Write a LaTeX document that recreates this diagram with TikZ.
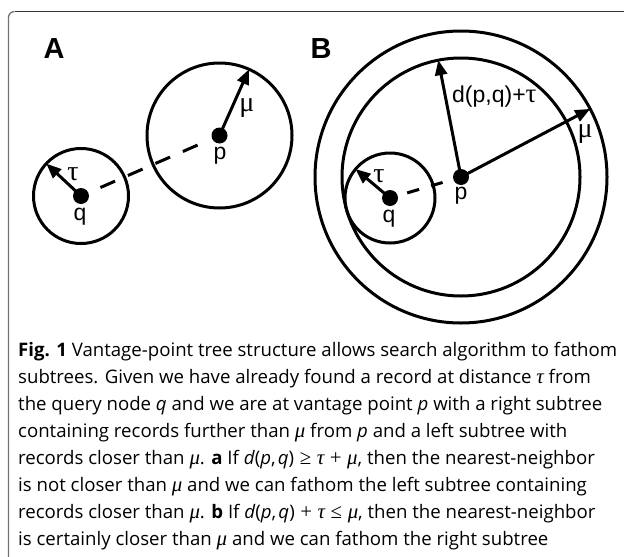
\documentclass[tikz,border=0pt]{standalone}
\usepackage{fontspec}
\setmainfont{Open Sans}
\newfontfamily\helv{Liberation Sans}
\newfontfamily\tser{Liberation Serif}
\newcommand\gfont{\tser\itshape\fontsize{\gsize pt}{27pt}\selectfont}
\newcommand\gtau{{\gfont τ}}
\newcommand\gmu{{\gfont μ}}
\newcommand\gop[1]{\hspace{0.3em}{\tser\fontsize{\gsize pt}{27pt}\selectfont #1}\hspace{0.3em}}
\newcommand\dpq{\textit{d}(\textit{p},\hspace{0.12em}\textit{q})}
\usetikzlibrary{arrows.meta}
\newlength\capw
\begin{document}
\settowidth\capw{\fontsize{10pt}{12pt}\selectfont\textbf{Fig. 1} Vantage-point tree structure allows search algorithm to fathom}%
\pgfmathsetmacro\capsize{5990/\capw}%
\pgfmathsetmacro\gsize{1.12*\capsize}%
\begin{tikzpicture}[x=1pt,y=-1pt,
  ring/.style={draw=black,line width=3pt},
  dot/.style={circle,fill=black,inner sep=0pt,minimum size=16pt},
  radarrow/.style={line width=3pt,-{Triangle[length=15pt,width=12pt]}},
  dashA/.style={line width=3pt,dash pattern=on 16pt off 14pt},
  dashB/.style={line width=3pt,dash pattern=on 12.5pt off 12.5pt},
  lab/.style={font=\helv\fontsize{23pt}{23pt}\selectfont,inner sep=0pt,anchor=base},
  glab/.style={font=\tser\fontsize{28pt}{28pt}\selectfont,inner sep=0pt,anchor=base},
  panel/.style={font=\helv\bfseries\fontsize{29pt}{29pt}\selectfont,inner sep=0pt},
  framel/.style={draw=black!55,line width=1.3pt},
  framet/.style={draw=black!80,line width=1.3pt},
  capline/.style={anchor=base west,inner sep=0pt,font=\fontsize{\capsize pt}{27pt}\selectfont}
]
\useasboundingbox (0,0) rectangle (624,557);
% frame
\draw[framel] (8.5,557) -- (8.5,17.5) arc[start angle=180,end angle=270,radius=6];
\draw[framet] (14.5,11.5) -- (624,11.5);

% panel labels
\node[panel] (labA) at (54,49) {A};
\node[panel] (labB) at (321,49) {B};

% ---------- Panel A ----------
\draw[ring] (81,196) circle[radius=47.5];
\draw[ring] (219.5,135.5) circle[radius=72.5];
\node[dot] (qA) at (81,196) {};
\node[dot] (pA) at (219.5,135.5) {};
\coordinate (tauA) at (46.3,163.6);
\coordinate (muA) at (249,69.3);
\draw[radarrow] (qA.center) -- (tauA);
\draw[radarrow] (pA.center) -- (muA);
\draw[dashA,shorten <=13pt,shorten >=15.5pt] (qA) -- (pA);
\node[glab] (tauAl) at (73,180) {τ};
\node[lab] (qAl) at (80,220) {q};
\node[lab] (pAl) at (220,159) {p};
\node[glab] (muAl) at (247,111) {μ};

% ---------- Panel B ----------
\draw[ring] (461,177) circle[radius=146];
\draw[ring] (461,177) circle[radius=119];
\draw[ring] (390,198) circle[radius=45];
\node[dot] (qB) at (390,198) {};
\node[dot] (pB) at (461,177) {};
\coordinate (tauB) at (355.5,169);
\coordinate (dB) at (438.3,60.2);
\coordinate (muB) at (590.2,108.9);
\draw[radarrow] (qB.center) -- (tauB);
\draw[radarrow] (pB.center) -- (dB);
\draw[radarrow] (pB.center) -- (muB);
\draw[dashB,shorten <=9.7pt,shorten >=11pt] (qB) -- (pB);
\node[glab] (tauBl) at (379,182) {τ};
\node[lab] (qBl) at (389,222) {q};
\node[lab] (pBl) at (461,199) {p};
\node[glab] (muBl) at (585,137) {μ};
\node[lab,anchor=base west] (dBl) at (452,102) {d(p,q)+{\tser\fontsize{27pt}{27pt}\selectfont τ}};

% ---------- Caption ----------
\node[capline] (c1) at (18,356) {\textbf{Fig. 1} Vantage-point tree structure allows search algorithm to fathom};
\node[capline] (c2) at (18,383) {subtrees. Given we have already found a record at distance \gtau{} from};
\node[capline] (c3) at (18,410) {the query node \textit{q} and we are at vantage point \textit{p} with a right subtree};
\node[capline] (c4) at (18,437) {containing records further than \gmu{} from \textit{p} and a left subtree with};
\node[capline] (c5) at (18,464) {records closer than \gmu. \textbf{a} If \dpq\gop{≥}\gtau\gop{+}\gmu, then the nearest-neighbor};
\node[capline] (c6) at (18,491) {is not closer than \gmu{} and we can fathom the left subtree containing};
\node[capline] (c7) at (18,518) {records closer than \gmu. \textbf{b} If \dpq\gop{+}\gtau\gop{≤}\gmu, then the nearest-neighbor};
\node[capline] (c8) at (18,545) {is certainly closer than \gmu{} and we can fathom the right subtree};
\end{tikzpicture}
\end{document}
